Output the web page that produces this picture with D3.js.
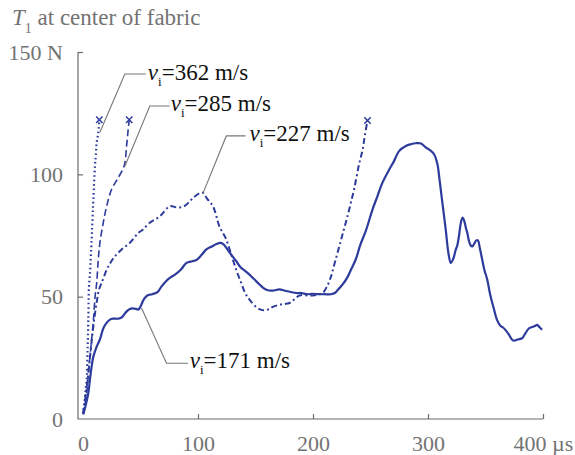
<!DOCTYPE html>
<html><head><meta charset="utf-8">
<script src="https://cdn.jsdelivr.net/npm/d3@7"></script>
<style>
html,body{margin:0;padding:0;background:#fff;}
</style></head>
<body><svg id="c" width="575" height="455"></svg>
<script>
// ---- data ----
const xTicks = [0, 100, 200, 300, 400];
const yTicks = [0, 50, 100, 150];
const xUnit = "µs";
const yUnit = "N";

const t171 = [0.3,2,4.6,6,7.5,9,11.9,14.7,17.6,20,23.4,26,30.6,33.5,35,38,40.8,43,46,48,50,53,56,60,65,68,72.6,75.5,80,85,90,95,98.6,103,107.3,112,116,119,122,126,130,133.3,137,141,144.8,148,153.5,157,160.7,165,170.9,175,180,185.3,190,195,199.7,205,210,215.7,219,222,225.8,230,233,237.4,241,246,251.8,256,260.4,266.3,270,275,280.7,285,289.4,294,298,302,305.3,308.2,310,312.5,315.4,317.7,319.8,322,324,325.5,327,328.5,330,331.5,333,334.2,335.5,337,338.5,340,342,343.4,345,347.2,349,351.5,354,357.3,360,363.1,365,368,371,373.2,375,378,381.9,384,387.7,390,393,394.9,397,399.2];
const f171 = [2,5,10.5,16,21.4,25.5,29.6,32.5,37,39,40.6,41,41,41.5,42.2,44,45,45.2,45,44.7,46,49,50.5,51,52,54,56.5,57.7,59,61,63.8,64.5,65,67,69.3,70.5,71.5,72,71.5,69,66.5,64.5,62,60.5,59,57.5,55,53.5,52.6,52.5,53,52.5,52,51.5,51.5,51,51.2,51,51,51,51.5,53,55,58,61,65.5,71,77,85.7,91,96.6,102,105,109.6,111.6,112.3,112.7,112.6,111,109.8,108.2,104.1,98,88.4,77.5,68,63.8,65.5,69,71,75,80,82.3,81,78,76,73,71,70.5,71.5,73,73,70,65,61,57,51,45,40.5,38,37.5,36,34,32.4,32,32.5,33,34.5,37,37.5,38,38.5,37.5,36.5];

const t227 = [0,3,6,9,12,14,16.2,20.6,24,27.8,33.6,40.8,48,52.3,58,67,75.5,81,87,92,96,101.5,104,108,113,118.8,124,130.4,134,137.6,141,144.8,150,154,157.8,162,165,170.9,175,179.5,184,188.2,195,200,204,208.4,212,215.7,219,222.9,226,230,233,236,240,243.1,245,247.4];
const f227 = [2,12,25,38,48,53,55.6,61,64,66.5,69.3,72,76,77.5,80.2,82.9,87,86.5,86.7,88.5,90.5,92.3,92.5,90,87,78.5,74,65,60,55.6,51.5,48.8,46,44.8,44.4,45,45.8,46.7,47,47.4,49,50.5,50.5,50.5,50.8,51.5,54,58.3,64,70.6,76,82.9,88.5,94.5,104,110,115.7,122];

const t285 = [0,3,5,7,9,10.5,11.9,13.3,14.7,17.6,20.6,24.9,30.6,35.8,37.9,39.3,40.2];
const f285 = [2,10,20,30,40,50,55.6,65.2,72,80.2,87,93.9,98.6,103.4,111.6,118.4,122.3];

const t362 = [0,1.5,2.5,3.2,4,4.6,5.2,6.1,7.5,8.3,9,10.4,11.2,11.9,13.3,14.2];
const f362 = [2,8,13,16,28,40,54,59.7,73.4,82,89.8,103.4,108,113,117,122.3];

// leader-line annotations in data units
const labelNames = ["362 m/s", "285 m/s", "227 m/s", "171 m/s"];
const leaderPts = [
  [[14.7,117.2],[36.4,141],[54.6,141]],
  [[36.4,103.3],[58.1,127.9],[75.5,127.9]],
  [[104.3,92.2],[124.6,115.7],[141.4,115.7]],
  [[50.9,45.4],[72.6,22.8],[91.3,22.8]]
];
const labelPos = [[56.4,138.5],[76.3,125.8],[144.8,113.6],[92.8,20.8]];

// ---- chart ----
const FONT = '"Liberation Serif"';
const svg = d3.select("#c");
const blue = "#2d3b9c";
const axisGray = "#6b6b6b";
const x = d3.scaleLinear().domain([0,400]).range([83,543]);
const y = d3.scaleLinear().domain([0,150]).range([419,52]);
const axisX0 = 78;

// y axis
const yAxis = d3.axisLeft(y).tickValues(yTicks).tickSize(-5).tickSizeOuter(0).tickPadding(15)
  .tickFormat(d => d === 150 ? d + " " + yUnit : d);
const gy = svg.append("g").attr("transform", `translate(${axisX0},0)`).call(yAxis);
gy.select(".domain").remove();
gy.selectAll(".tick line").attr("stroke", axisGray).attr("stroke-width",1.2);
gy.selectAll(".tick").filter(d => d === 0).select("line").remove();
gy.selectAll("text").style("font-family", FONT).style("font-size", "22px").attr("fill", "#737373");

// x axis
const xAxis = d3.axisBottom(x).tickValues(xTicks).tickSize(-5).tickSizeOuter(0).tickPadding(16)
  .tickFormat(d => d === 400 ? d + " " + xUnit : d);
const gx = svg.append("g").attr("transform", `translate(0,${y(0)})`).call(xAxis);
gx.select(".domain").remove();
gx.selectAll(".tick line").attr("stroke", axisGray).attr("stroke-width",1.2);
gx.selectAll(".tick").filter(d => d === 0).select("line").remove();
gx.selectAll("text").style("font-family", FONT).style("font-size", "22px").attr("fill", "#737373");
gx.selectAll(".tick").filter(d => d === 400).select("text")
  .attr("text-anchor", "start").attr("x", -30);

// axis lines
svg.append("path")
  .attr("d", `M${axisX0},${y(150)}V${y(0)}H${x(400)}`)
  .attr("fill","none").attr("stroke", axisGray).attr("stroke-width",1.2);

// title
const title = svg.append("text").attr("x", 12).attr("y", 25)
  .style("font-family", FONT).style("font-size", "23px").attr("fill", "#737373");
title.append("tspan").attr("font-style","italic").text("T");
title.append("tspan").style("font-size", "14px").attr("dy", 8).text("1");
title.append("tspan").attr("dy", -8).text(" at center of fabric");

// lines
const line = d3.line().x(d => x(d[0])).y(d => y(d[1])).curve(d3.curveCatmullRom.alpha(0.5));
const zip = (a,b) => a.map((v,i) => [v, b[i]]);
const series = [
  {t:t171, f:f171, dash:null, w:2.2, end:false},
  {t:t227, f:f227, dash:"6,3,2,3", w:2, end:true},
  {t:t285, f:f285, dash:"7,3.5", w:1.6, end:true},
  {t:t362, f:f362, dash:"1.6,2.8", w:2.2, end:true}
];
series.forEach(s => {
  const d = zip(s.t, s.f);
  svg.append("path").datum(d).attr("d", line)
    .attr("fill","none").attr("stroke", blue).attr("stroke-width", s.w)
    .attr("stroke-dasharray", s.dash);
  if (s.end) {
    const p = d[d.length-1];
    const cx = x(p[0]), cy = y(p[1]), r = 3.2;
    svg.append("path")
      .attr("d", `M${cx-r},${cy-r}L${cx+r},${cy+r}M${cx-r},${cy+r}L${cx+r},${cy-r}`)
      .attr("stroke", blue).attr("stroke-width", 1.5).attr("fill","none");
  }
});

// annotations
labelNames.forEach((name, i) => {
  svg.append("path")
    .attr("d", d3.line().x(d => x(d[0])).y(d => y(d[1]))(leaderPts[i]))
    .attr("fill","none").attr("stroke","#777").attr("stroke-width",1.1);
  const t = svg.append("text").attr("x", x(labelPos[i][0])).attr("y", y(labelPos[i][1]))
    .style("font-family", FONT).style("font-size", "23px").attr("fill", "#111");
  t.append("tspan").attr("font-style","italic").text("v");
  t.append("tspan").style("font-size", "13px").attr("dy", 6).text("i");
  t.append("tspan").attr("dy", -6).text("=" + name);
});
</script></body></html>
